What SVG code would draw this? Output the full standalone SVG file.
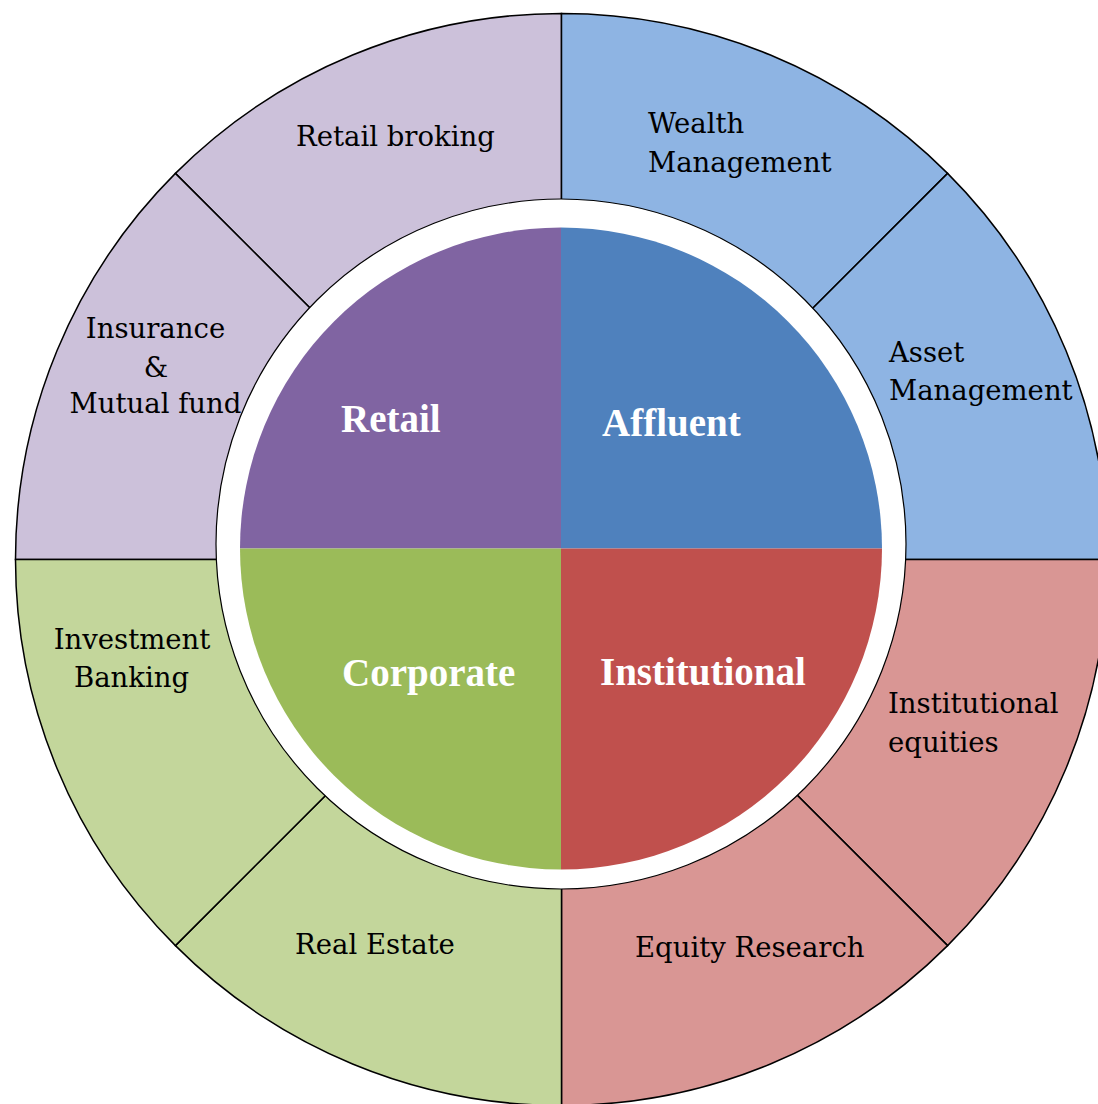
<svg xmlns="http://www.w3.org/2000/svg" width="1098" height="1104" viewBox="0 0 1098 1104">
  <style>
    .seg { stroke: #000; stroke-width: 1.5; stroke-linejoin: miter; }
    .lbl { font-family: "DejaVu Serif", "Liberation Serif", serif; font-size: 27.5px; fill: #000; }
    .mid { text-anchor: middle; }
    .big { font-family: "Liberation Serif", "DejaVu Serif", serif; font-size: 39px; font-weight: bold; fill: #fff; }
    .purple-l { fill: #CCC1DA; }
    .blue-l { fill: #8EB4E3; }
    .red-l { fill: #D99694; }
    .green-l { fill: #C3D69B; }
  </style>
  <rect x="0" y="0" width="1098" height="1104" fill="#fff"/>

  <g id="outer-ring">
    <g id="retail-broking">
      <path class="seg purple-l" d="M561.5,559.5 L175.4,173.4 A546,546 0 0 1 561.5,13.5 Z"/>
      <text class="lbl" x="296" y="146">Retail broking</text>
    </g>
    <g id="insurance-mutual-fund">
      <path class="seg purple-l" d="M561.5,559.5 L15.5,559.5 A546,546 0 0 1 175.4,173.4 Z"/>
      <text class="lbl mid" x="155.5" y="338">Insurance</text>
      <text class="lbl mid" x="156" y="377">&amp;</text>
      <text class="lbl mid" x="155.5" y="413">Mutual fund</text>
    </g>
    <g id="wealth-management">
      <path class="seg blue-l" d="M561.5,559.5 L561.5,13.5 A546,546 0 0 1 947.6,173.4 Z"/>
      <text class="lbl" x="648" y="133">Wealth</text>
      <text class="lbl" x="648" y="172">Management</text>
    </g>
    <g id="asset-management">
      <path class="seg blue-l" d="M561.5,559.5 L947.6,173.4 A546,546 0 0 1 1107.5,559.5 Z"/>
      <text class="lbl" x="889" y="362">Asset</text>
      <text class="lbl" x="889" y="400">Management</text>
    </g>
    <g id="institutional-equities">
      <path class="seg red-l" d="M561.5,559.5 L1107.5,559.5 A546,546 0 0 1 947.6,945.6 Z"/>
      <text class="lbl" x="888" y="713">Institutional</text>
      <text class="lbl" x="888" y="752">equities</text>
    </g>
    <g id="equity-research">
      <path class="seg red-l" d="M561.5,559.5 L947.6,945.6 A546,546 0 0 1 561.5,1105.5 Z"/>
      <text class="lbl" x="635" y="957">Equity Research</text>
    </g>
    <g id="real-estate">
      <path class="seg green-l" d="M561.5,559.5 L561.5,1105.5 A546,546 0 0 1 175.4,945.6 Z"/>
      <text class="lbl" x="295" y="954">Real Estate</text>
    </g>
    <g id="investment-banking">
      <path class="seg green-l" d="M561.5,559.5 L175.4,945.6 A546,546 0 0 1 15.5,559.5 Z"/>
      <text class="lbl mid" x="132" y="649">Investment</text>
      <text class="lbl mid" x="131.5" y="687">Banking</text>
    </g>
  </g>

  <g id="connectors"></g>

  <g id="separator-ring">
    <circle cx="561" cy="544" r="345" fill="#fff" stroke="#000" stroke-width="1.2"/>
  </g>

  <g id="core">
    <g id="retail">
      <path fill="#8064A2" d="M561,548.5 L240,548.5 A321,321 0 0 1 561,227.5 Z"/>
      <text class="big" x="341" y="432">Retail</text>
    </g>
    <g id="affluent">
      <path fill="#4F81BD" d="M561,548.5 L561,227.5 A321,321 0 0 1 882,548.5 Z"/>
      <text class="big" x="602" y="436">Affluent</text>
    </g>
    <g id="institutional">
      <path fill="#C0504D" d="M561,548.5 L882,548.5 A321,321 0 0 1 561,869.5 Z"/>
      <text class="big" x="600" y="685">Institutional</text>
    </g>
    <g id="corporate">
      <path fill="#9BBB59" d="M561,548.5 L561,869.5 A321,321 0 0 1 240,548.5 Z"/>
      <text class="big" x="342" y="686">Corporate</text>
    </g>
  </g>
</svg>
